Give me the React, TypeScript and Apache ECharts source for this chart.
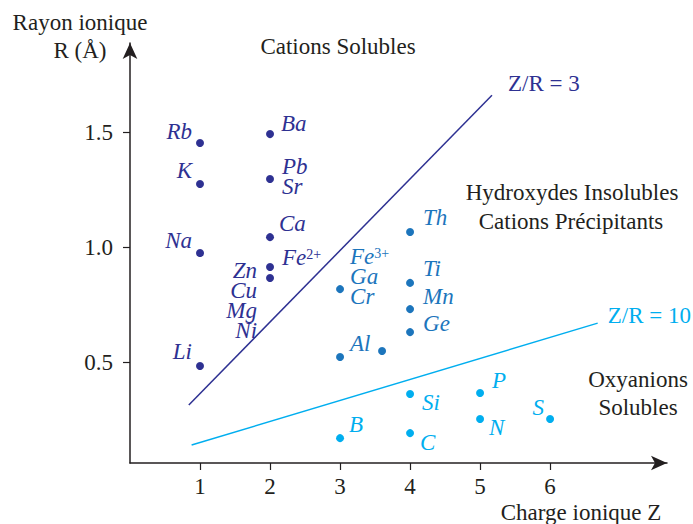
import React, { useEffect, useRef } from "react";
import * as echarts from "echarts";

// ---- Data ----
// Cations solubles (dark blue)
const solubleNames = ["Rb", "K", "Na", "Li", "Ba", "Pb|Sr", "Ca", "Fe^2+", "Zn|Cu|Mg|Ni"];
const solubleZ = [1, 1, 1, 1, 2, 2, 2, 2, 2];
const solubleR = [1.455, 1.277, 0.977, 0.486, 1.494, 1.299, 1.046, 0.916, 0.868];

// Hydroxydes insolubles (medium blue)
const hydroxNames = ["Th", "Ti", "Mn", "Ge", "Fe^3+|Ga|Cr", "Al", ""];
const hydroxZ = [4, 4, 4, 4, 3, 3, 3.6];
const hydroxR = [1.068, 0.847, 0.733, 0.633, 0.82, 0.525, 0.551];

// Oxyanions solubles (light blue)
const oxyNames = ["Si", "P", "N", "S", "B", "C"];
const oxyZ = [4, 5, 5, 6, 3, 4];
const oxyR = [0.364, 0.368, 0.255, 0.255, 0.172, 0.194];

// Boundary lines
const line3Z = [0.84, 5.17];
const line3R = [0.316, 1.663];
const line10Z = [0.88, 6.68];
const line10R = [0.142, 0.672];

const xTicks = [1, 2, 3, 4, 5, 6];
const yTicks = [0.5, 1.0, 1.5];

// ---- Styles ----
const FONT = '"Liberation Serif", "Times New Roman", serif';
const DARK = "#2e3192";
const MID = "#1c75bc";
const LIGHT = "#00aeef";
const INK = "#231f20";
const FS = 23;

// label placement (style only): [align, dx, dy]
const labelPlace: Record<string, [string, number, number]> = {
  Rb: ["right", -8, -12],
  K: ["right", -8, -13],
  Na: ["right", -8, -13],
  Li: ["right", -8, -14],
  Ba: ["left", 11, -11],
  "Pb|Sr": ["left", 12, -2],
  Ca: ["left", 9, -14],
  "Fe^2+": ["left", 12, -10],
  "Zn|Cu|Mg|Ni": ["right", -13, 22],
  Th: ["left", 13, -15],
  Ti: ["left", 13, -14],
  Mn: ["left", 13, -13],
  Ge: ["left", 13, -9],
  "Fe^3+|Ga|Cr": ["left", 10, -13],
  Al: ["left", 10, -13],
  Si: ["left", 12, 9],
  P: ["left", 12, -13],
  N: ["left", 9, 8],
  S: ["right", -6, -12],
  B: ["left", 9, -14],
  C: ["left", 10, 9],
};

function toRich(name: string): string {
  return name
    .split("|")
    .map((line) => {
      const i = line.indexOf("^");
      if (i >= 0) return `{n|${line.slice(0, i)}}{s|${line.slice(i + 1)}}`;
      return `{n|${line}}`;
    })
    .join("\n");
}

function richFor(color: string) {
  return {
    n: { fontFamily: FONT, fontStyle: "italic", fontSize: FS, color, lineHeight: 20 },
    s: { fontFamily: FONT, fontSize: 14, color, lineHeight: 20, verticalAlign: "top" },
  };
}

function buildPoints(names: string[], zs: number[], rs: number[]) {
  return names.map((name, i) => {
    const place = labelPlace[name];
    return {
      name,
      value: [zs[i], rs[i]],
      label: place
        ? { show: true, formatter: toRich(name), align: place[0], offset: [place[1], place[2]] }
        : { show: false },
    };
  });
}

function scatterSeries(names: string[], zs: number[], rs: number[], color: string) {
  return {
    type: "scatter",
    symbol: "circle",
    symbolSize: 8,
    itemStyle: { color, opacity: 1 },
    label: {
      show: true,
      position: "inside",
      verticalAlign: "middle",
      opacity: 1,
      rich: richFor(color),
    },
    data: buildPoints(names, zs, rs),
  };
}

function lineSeries(zs: number[], rs: number[], color: string, text: string, offset: number[]) {
  return {
    type: "line",
    showSymbol: false,
    symbol: "none",
    lineStyle: { color, width: 1.5 },
    endLabel: {
      show: true,
      formatter: text,
      color,
      fontFamily: FONT,
      fontSize: FS,
      offset,
    },
    data: zs.map((z, i) => [z, rs[i]]),
  };
}

const axisLine = {
  show: true,
  symbol: ["none", "arrow"],
  symbolSize: [11, 16],
  lineStyle: { color: INK, width: 1.5 },
};

function textEl(text: string, x: number, y: number) {
  return {
    type: "text",
    x,
    y,
    style: {
      text,
      fill: INK,
      fontFamily: FONT,
      fontSize: FS,
      align: "center",
      verticalAlign: "middle",
    },
  };
}

export default function App() {
  const ref = useRef<HTMLDivElement>(null);
  useEffect(() => {
    if (!ref.current) return;
    const chart = echarts.init(ref.current, null, { renderer: "svg" });
    chart.setOption({
      animation: false,
      backgroundColor: "#ffffff",
      grid: {
        left: 130,
        right: 26,
        top: 43,
        bottom: 61,
        containLabel: false,
        outerBoundsMode: "none",
      },
      xAxis: {
        type: "value",
        min: 0,
        max: 7.67,
        splitLine: { show: false },
        axisLine,
        axisTick: {
          show: true,
          length: 7,
          customValues: xTicks,
          lineStyle: { color: INK, width: 1.2 },
        },
        axisLabel: {
          customValues: xTicks,
          margin: 12,
          color: INK,
          fontFamily: FONT,
          fontSize: FS,
          formatter: (v: number) => String(v),
        },
      },
      yAxis: {
        type: "value",
        min: 0.064,
        max: 1.89,
        splitLine: { show: false },
        axisLine,
        axisTick: {
          show: true,
          length: 7,
          customValues: yTicks,
          lineStyle: { color: INK, width: 1.2 },
        },
        axisLabel: {
          customValues: yTicks,
          margin: 17,
          color: INK,
          fontFamily: FONT,
          fontSize: FS,
          formatter: (v: number) => v.toFixed(1),
        },
      },
      series: [
        lineSeries(line3Z, line3R, DARK, "Z/R = 3", [8, -12]),
        lineSeries(line10Z, line10R, LIGHT, "Z/R = 10", [2, -8]),
        scatterSeries(solubleNames, solubleZ, solubleR, DARK),
        scatterSeries(hydroxNames, hydroxZ, hydroxR, MID),
        scatterSeries(oxyNames, oxyZ, oxyR, LIGHT),
      ],
      graphic: [
        textEl("Rayon ionique", 80, 22),
        textEl("R (Å)", 80, 50),
        textEl("Charge ionique Z", 581, 512),
        textEl("Cations Solubles", 338, 46),
        textEl("Hydroxydes Insolubles", 572, 192),
        textEl("Cations Précipitants", 571, 221),
        textEl("Oxyanions", 638, 379),
        textEl("Solubles", 638, 407),
      ],
    });
    return () => chart.dispose();
  }, []);
  return (
    <div
      ref={ref}
      style={{ position: "fixed", left: 0, top: 0, width: 693, height: 524 }}
    />
  );
}
